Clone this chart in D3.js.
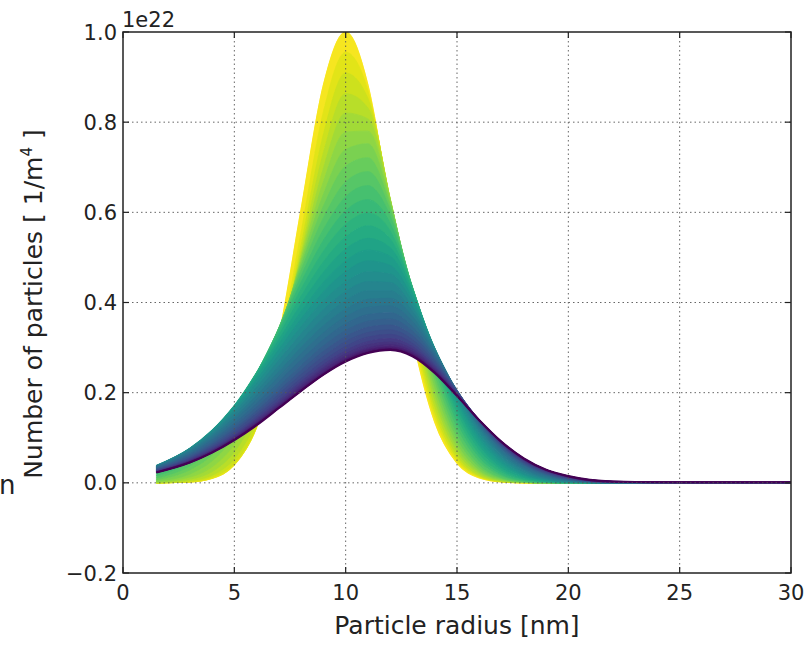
<!DOCTYPE html>
<html>
<head>
<meta charset="utf-8">
<script src="https://cdn.jsdelivr.net/npm/d3@7"></script>
<style>
  html, body { margin: 0; padding: 0; background: #fff; }
  svg { display: block; font-family: "DejaVu Sans", sans-serif; }
</style>
</head>
<body>
<svg id="chart" width="807" height="645"></svg>
<script>
// Particle radius samples [nm]
const radius = [1.5, 3, 4, 5, 6, 7, 8, 9, 10, 11, 12, 13, 14, 15, 16, 17, 18, 19, 20, 22, 25, 30];

// Size distribution at successive output steps, in units of 1e22 1/m^4
// (first row = initial narrow distribution, last row = final broad one)
const profiles = [
  [0.000, 0.002, 0.011, 0.044, 0.135, 0.325, 0.607, 0.882, 1.000, 0.882, 0.607, 0.325, 0.135, 0.044, 0.011, 0.002, 0.000, 0, 0, 0, 0, 0],
  [0.000, 0.002, 0.010, 0.040, 0.123, 0.295, 0.555, 0.822, 0.955, 0.869, 0.616, 0.340, 0.146, 0.049, 0.013, 0.003, 0.000, 0, 0, 0, 0, 0],
  [0.000, 0.003, 0.013, 0.044, 0.126, 0.288, 0.526, 0.772, 0.909, 0.852, 0.623, 0.356, 0.158, 0.055, 0.015, 0.003, 0.001, 0, 0, 0, 0, 0],
  [0.000, 0.005, 0.017, 0.054, 0.139, 0.293, 0.510, 0.731, 0.863, 0.831, 0.627, 0.370, 0.171, 0.062, 0.017, 0.004, 0.001, 0, 0, 0, 0, 0],
  [0.001, 0.008, 0.025, 0.069, 0.157, 0.305, 0.501, 0.697, 0.820, 0.807, 0.629, 0.385, 0.185, 0.070, 0.021, 0.005, 0.001, 0, 0, 0, 0, 0],
  [0.002, 0.013, 0.036, 0.086, 0.178, 0.319, 0.495, 0.667, 0.778, 0.780, 0.627, 0.398, 0.199, 0.079, 0.025, 0.006, 0.001, 0, 0, 0, 0, 0],
  [0.004, 0.020, 0.049, 0.104, 0.197, 0.330, 0.488, 0.639, 0.739, 0.752, 0.622, 0.409, 0.214, 0.089, 0.029, 0.008, 0.002, 0, 0, 0, 0, 0],
  [0.007, 0.029, 0.062, 0.122, 0.214, 0.338, 0.480, 0.613, 0.702, 0.721, 0.614, 0.419, 0.229, 0.100, 0.035, 0.010, 0.002, 0, 0, 0, 0, 0],
  [0.011, 0.038, 0.076, 0.138, 0.228, 0.343, 0.470, 0.587, 0.667, 0.690, 0.604, 0.426, 0.243, 0.112, 0.041, 0.012, 0.003, 0.001, 0, 0, 0, 0],
  [0.016, 0.047, 0.088, 0.151, 0.237, 0.343, 0.458, 0.561, 0.634, 0.659, 0.591, 0.431, 0.256, 0.124, 0.049, 0.016, 0.004, 0.001, 0, 0, 0, 0],
  [0.021, 0.056, 0.098, 0.160, 0.243, 0.341, 0.444, 0.537, 0.603, 0.628, 0.575, 0.433, 0.268, 0.136, 0.057, 0.019, 0.005, 0.001, 0, 0, 0, 0],
  [0.026, 0.063, 0.106, 0.167, 0.244, 0.335, 0.429, 0.513, 0.573, 0.598, 0.558, 0.433, 0.278, 0.148, 0.065, 0.024, 0.007, 0.002, 0, 0, 0, 0],
  [0.030, 0.069, 0.112, 0.170, 0.244, 0.327, 0.413, 0.489, 0.545, 0.570, 0.540, 0.430, 0.286, 0.159, 0.074, 0.029, 0.009, 0.003, 0.001, 0, 0, 0],
  [0.033, 0.073, 0.115, 0.171, 0.240, 0.317, 0.396, 0.466, 0.518, 0.542, 0.521, 0.425, 0.292, 0.169, 0.083, 0.034, 0.012, 0.003, 0.001, 0, 0, 0],
  [0.036, 0.076, 0.116, 0.170, 0.235, 0.307, 0.379, 0.444, 0.492, 0.516, 0.502, 0.418, 0.296, 0.178, 0.091, 0.040, 0.015, 0.005, 0.001, 0, 0, 0],
  [0.037, 0.076, 0.116, 0.167, 0.228, 0.295, 0.363, 0.423, 0.468, 0.492, 0.482, 0.409, 0.298, 0.186, 0.100, 0.046, 0.018, 0.006, 0.002, 0, 0, 0],
  [0.038, 0.076, 0.114, 0.162, 0.220, 0.283, 0.346, 0.403, 0.445, 0.468, 0.463, 0.400, 0.298, 0.192, 0.107, 0.052, 0.021, 0.008, 0.002, 0, 0, 0],
  [0.038, 0.075, 0.111, 0.157, 0.211, 0.271, 0.330, 0.383, 0.424, 0.446, 0.444, 0.389, 0.297, 0.197, 0.114, 0.057, 0.025, 0.009, 0.003, 0, 0, 0],
  [0.037, 0.073, 0.107, 0.151, 0.202, 0.258, 0.314, 0.365, 0.404, 0.426, 0.426, 0.379, 0.295, 0.201, 0.120, 0.062, 0.029, 0.011, 0.004, 0, 0, 0],
  [0.036, 0.070, 0.103, 0.144, 0.193, 0.246, 0.300, 0.348, 0.385, 0.407, 0.409, 0.368, 0.291, 0.203, 0.125, 0.067, 0.032, 0.013, 0.005, 0, 0, 0],
  [0.035, 0.067, 0.098, 0.138, 0.184, 0.235, 0.286, 0.332, 0.368, 0.389, 0.392, 0.357, 0.287, 0.204, 0.129, 0.072, 0.036, 0.016, 0.006, 0.001, 0, 0],
  [0.033, 0.064, 0.094, 0.131, 0.175, 0.224, 0.272, 0.317, 0.352, 0.373, 0.377, 0.346, 0.282, 0.205, 0.132, 0.076, 0.039, 0.018, 0.007, 0.001, 0, 0],
  [0.031, 0.061, 0.089, 0.125, 0.167, 0.213, 0.260, 0.303, 0.337, 0.358, 0.363, 0.336, 0.277, 0.204, 0.135, 0.079, 0.042, 0.020, 0.008, 0.001, 0, 0],
  [0.030, 0.058, 0.085, 0.119, 0.159, 0.204, 0.249, 0.291, 0.324, 0.345, 0.350, 0.326, 0.272, 0.203, 0.136, 0.082, 0.044, 0.021, 0.009, 0.001, 0, 0],
  [0.028, 0.055, 0.081, 0.114, 0.153, 0.196, 0.240, 0.280, 0.313, 0.333, 0.339, 0.317, 0.267, 0.202, 0.138, 0.084, 0.046, 0.023, 0.010, 0.001, 0, 0],
  [0.027, 0.053, 0.078, 0.109, 0.147, 0.189, 0.231, 0.270, 0.302, 0.323, 0.329, 0.309, 0.262, 0.201, 0.138, 0.086, 0.048, 0.025, 0.011, 0.002, 0.001, 0.001],
  [0.026, 0.051, 0.075, 0.105, 0.142, 0.182, 0.224, 0.262, 0.293, 0.313, 0.320, 0.302, 0.258, 0.199, 0.139, 0.088, 0.050, 0.026, 0.012, 0.002, 0.001, 0.001],
  [0.025, 0.049, 0.072, 0.102, 0.138, 0.177, 0.218, 0.255, 0.286, 0.306, 0.312, 0.296, 0.254, 0.197, 0.139, 0.089, 0.051, 0.027, 0.013, 0.002, 0.001, 0.001],
  [0.024, 0.048, 0.071, 0.100, 0.134, 0.173, 0.213, 0.250, 0.280, 0.299, 0.306, 0.291, 0.251, 0.196, 0.139, 0.090, 0.052, 0.028, 0.013, 0.002, 0.001, 0.001],
  [0.024, 0.047, 0.069, 0.098, 0.132, 0.170, 0.209, 0.245, 0.275, 0.295, 0.301, 0.287, 0.248, 0.195, 0.139, 0.090, 0.053, 0.029, 0.014, 0.002, 0.001, 0.001],
  [0.023, 0.046, 0.068, 0.096, 0.130, 0.167, 0.206, 0.242, 0.272, 0.291, 0.298, 0.284, 0.246, 0.194, 0.139, 0.091, 0.054, 0.029, 0.014, 0.003, 0.001, 0.001],
  [0.023, 0.045, 0.067, 0.095, 0.129, 0.166, 0.204, 0.240, 0.270, 0.289, 0.296, 0.282, 0.245, 0.193, 0.139, 0.091, 0.054, 0.029, 0.015, 0.003, 0.001, 0.001],
  [0.023, 0.045, 0.067, 0.095, 0.128, 0.166, 0.204, 0.240, 0.269, 0.288, 0.295, 0.281, 0.244, 0.193, 0.139, 0.091, 0.054, 0.029, 0.015, 0.003, 0.001, 0.001]
];

const xTicks = [0, 5, 10, 15, 20, 25, 30];
const yTicks = [-0.2, 0.0, 0.2, 0.4, 0.6, 0.8, 1.0];
const offsetText = "1e22";
const xTitle = "Particle radius [nm]";
const yTitle = "Number of particles [ 1/m";

// ---- layout ----
const box = { left: 123, right: 791, top: 32, bottom: 573 };
const x = d3.scaleLinear().domain([0, 30]).range([box.left, box.right]);
const y = d3.scaleLinear().domain([-0.2, 1.0]).range([box.bottom, box.top]);

const svg = d3.select("#chart");
const last = profiles.length - 1;
const shade = t => d3.interpolateViridis(1 - t / last);

svg.append("defs").append("clipPath").attr("id", "plot-clip")
  .append("rect")
  .attr("x", box.left).attr("y", box.top)
  .attr("width", box.right - box.left).attr("height", box.bottom - box.top);

const plot = svg.append("g").attr("clip-path", "url(#plot-clip)");

const lineGen = d3.line()
  .x((d, i) => x(radius[i]))
  .y(d => y(d))
  .curve(d3.curveMonotoneX);

// Fill between consecutive steps so the family reads as a continuous sweep,
// then stroke each step on top, earliest first.
profiles.forEach((p, k) => {
  if (k > 0) {
    const prev = profiles[k - 1];
    const areaGen = d3.area()
      .x((d, i) => x(radius[i]))
      .y0((d, i) => y(prev[i]))
      .y1(d => y(d))
      .curve(d3.curveMonotoneX);
    const c = d3.interpolateViridis(1 - (k - 0.5) / last);
    plot.append("path").datum(p)
      .attr("d", areaGen)
      .attr("fill", c)
      .attr("stroke", c)
      .attr("stroke-width", 0.6);
  }
  plot.append("path").datum(p)
    .attr("d", lineGen)
    .attr("fill", "none")
    .attr("stroke", shade(k))
    .attr("stroke-width", k === last ? 2.2 : 1.3)
    .attr("stroke-linejoin", "round");
});

// ---- dotted grid, drawn over the curves ----
const grid = svg.append("g")
  .attr("stroke", "#555")
  .attr("stroke-width", 0.9)
  .attr("stroke-dasharray", "1.5,3");
xTicks.slice(1, -1).forEach(t => {
  grid.append("line").attr("x1", x(t)).attr("x2", x(t)).attr("y1", box.top).attr("y2", box.bottom);
});
yTicks.slice(1, -1).forEach(t => {
  grid.append("line").attr("x1", box.left).attr("x2", box.right).attr("y1", y(t)).attr("y2", y(t));
});

// ---- inward ticks on all four sides ----
const tickLen = 6;
const ticks = svg.append("g").attr("stroke", "#222").attr("stroke-width", 1.2);
xTicks.forEach(t => {
  ticks.append("line").attr("x1", x(t)).attr("x2", x(t)).attr("y1", box.bottom).attr("y2", box.bottom - tickLen);
  ticks.append("line").attr("x1", x(t)).attr("x2", x(t)).attr("y1", box.top).attr("y2", box.top + tickLen);
});
yTicks.forEach(t => {
  ticks.append("line").attr("x1", box.left).attr("x2", box.left + tickLen).attr("y1", y(t)).attr("y2", y(t));
  ticks.append("line").attr("x1", box.right).attr("x2", box.right - tickLen).attr("y1", y(t)).attr("y2", y(t));
});

// ---- frame ----
svg.append("rect")
  .attr("x", box.left).attr("y", box.top)
  .attr("width", box.right - box.left).attr("height", box.bottom - box.top)
  .attr("fill", "none").attr("stroke", "#222").attr("stroke-width", 1.5);

// ---- tick labels ----
const fmt = d3.format(".1f");
const labels = svg.append("g").attr("fill", "#222").attr("font-size", 21);
xTicks.forEach(t => {
  labels.append("text").attr("x", x(t)).attr("y", 600)
    .attr("text-anchor", "middle").text(t);
});
yTicks.forEach(t => {
  labels.append("text").attr("x", box.left - 6).attr("y", y(t)).attr("dy", "0.36em")
    .attr("text-anchor", "end").text(fmt(t));
});
labels.append("text").attr("x", box.left - 1).attr("y", 27)
  .attr("text-anchor", "start").text(offsetText);

// ---- axis titles ----
svg.append("text")
  .attr("x", (box.left + box.right) / 2).attr("y", 634)
  .attr("text-anchor", "middle").attr("font-size", 25).attr("fill", "#222")
  .text(xTitle);

const yt = svg.append("text")
  .attr("transform", "translate(42,304) rotate(-90)")
  .attr("text-anchor", "middle").attr("font-size", 25).attr("fill", "#222");
yt.append("tspan").text(yTitle);
yt.append("tspan").attr("font-size", 15).attr("dy", -10).text("4");
yt.append("tspan").attr("dy", 10).text(" ]");

// stray glyph at the left edge
svg.append("text").attr("x", -1).attr("y", 494)
  .attr("font-size", 26).attr("fill", "#222").text("n");
</script>
</body>
</html>
